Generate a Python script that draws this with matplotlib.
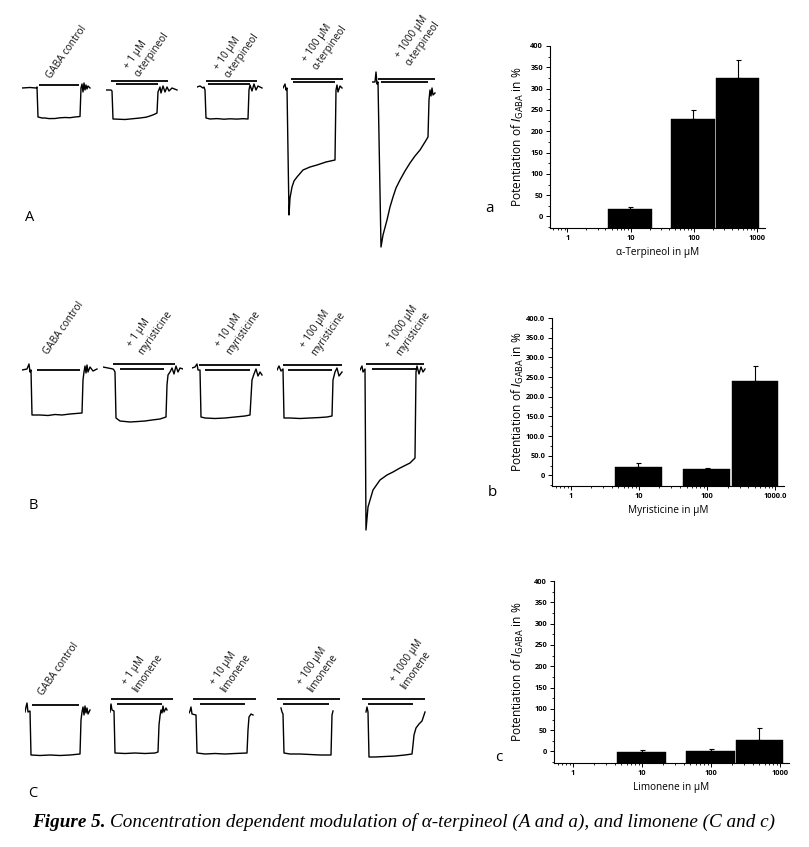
import matplotlib
matplotlib.use("Agg")
import matplotlib.pyplot as plt
from matplotlib.ticker import FixedLocator, LogLocator, NullFormatter, MultipleLocator

W, H = 809, 847
SANS = ['Open Sans', 'DejaVu Sans']
SERIF = ['Liberation Serif', 'DejaVu Serif']
plt.rcParams['font.family'] = SANS

# ---------------- DATA ----------------
# Current traces: time (s) relative to sweep start, current (nA) relative to holding baseline
# Row A: alpha-terpineol
A_t = [
    [0, 8, 14, 15, 16, 20, 23, 27, 33, 38, 43, 48, 53, 58, 59, 60, 61, 62, 63, 64, 65, 66, 68],
    [0, 5, 6, 7, 12, 19, 26, 34, 40, 44, 48, 51, 52, 54, 55, 57, 59, 61, 63, 66, 71],
    [0, 3, 6, 7, 8, 9, 13, 20, 27, 33, 40, 46, 51, 52, 53, 55, 57, 59, 61, 65],
    [0, 2, 3, 4, 6, 7, 9, 11, 14, 20, 27, 34, 43, 52, 53, 54, 55, 57, 59],
    [0, 3, 4, 5, 6, 9, 11, 15, 18, 21, 24, 28, 33, 38, 43, 48, 53, 56, 57, 58, 59, 60, 61, 63],
]
A_i = [
    [0, 5, 0, 10, -290, -300, -300, -306, -305, -298, -295, -297, -290, -285, 0, 40, -40, 50, -20, 30, -10, 20, 0],
    [-20, -20, -30, -310, -312, -315, -308, -300, -292, -280, -265, -250, -40, 10, -50, 20, -40, 10, -30, 0, -20],
    [10, 20, 0, 10, -20, -300, -310, -306, -312, -308, -311, -307, -310, -20, 30, -30, 40, -20, 20, 0],
    [0, 40, -20, 0, -1270, -1100, -990, -930, -890, -820, -790, -770, -740, -720, -20, 30, -40, 20, 0],
    [60, 60, 160, 40, 60, -1590, -1470, -1320, -1190, -1090, -1000, -920, -830, -750, -680, -620, -540,
     -490, -120, -20, -80, 0, -70, -50],
]
# Row B: myristicine
B_t = [
    [0, 5, 7, 8, 9, 10, 18, 26, 33, 40, 48, 54, 60, 61, 62, 63, 64, 65, 66, 68, 71, 75],
    [0, 5, 10, 11, 12, 13, 17, 27, 35, 42, 49, 57, 63, 64, 65, 67, 69, 71, 73, 75, 77, 80],
    [0, 3, 5, 6, 8, 9, 13, 23, 33, 43, 53, 58, 60, 62, 64, 66, 68, 70],
    [0, 2, 4, 6, 7, 13, 23, 33, 43, 50, 55, 56, 58, 60, 62, 65],
    [0, 2, 3, 5, 6, 8, 13, 20, 27, 33, 40, 50, 55, 56, 57, 59, 61, 63, 65],
]
B_i = [
    [-10, 0, 50, -30, -10, -460, -460, -465, -455, -460, -450, -445, -440, -110, -30, 30, -40, 40, -30, 20, -20, 0],
    [20, 10, 0, -10, -30, -490, -520, -530, -525, -520, -510, -500, -480, -160, -60, -30, 10, -50, 30, -30, 10, 0],
    [10, 20, 50, -10, -10, -480, -490, -495, -490, -480, -470, -460, -110, -50, 0, -70, -30, -60],
    [-10, 30, -20, 0, -490, -490, -495, -490, -485, -480, -470, -110, -30, 10, -70, -30],
    [-10, 30, -30, 0, -1610, -1380, -1210, -1110, -1060, -1030, -990, -940, -890, -30, 30, -50, 20, -30, 0],
]
# Row C: limonene
C_t = [
    [0, 1, 2, 3, 5, 6, 15, 25, 35, 45, 55, 56, 57, 58, 59, 60, 61, 62, 63, 65],
    [0, 1, 2, 4, 5, 15, 25, 35, 45, 48, 49, 50, 51, 52, 53, 54, 56, 57],
    [0, 1, 2, 3, 7, 8, 16, 26, 36, 46, 58, 59, 60, 62, 64],
    [4, 5, 6, 7, 13, 23, 33, 43, 54, 55, 56],
    [4, 5, 6, 7, 13, 23, 33, 43, 50, 51, 52, 54, 57, 60, 63],
]
C_i = [
    [-20, 30, 70, -20, -10, -450, -455, -450, -455, -450, -440, -100, -20, 30, -50, 40, -30, 20, -40, 0],
    [-20, 60, 0, -10, -430, -435, -430, -435, -430, -420, -150, -60, 0, -30, 40, -20, 20, 0],
    [-30, -10, 30, -40, -50, -430, -440, -435, -440, -435, -430, -200, -70, -40, -50],
    [20, -20, -40, -430, -440, -440, -445, -450, -450, -50, -10],
    [-20, 30, -20, -470, -470, -465, -460, -450, -440, -350, -250, -180, -140, -110, -20],
]
# Application bars: (t_start, t_end, level nA); first = GABA(+drug) long bar, second = GABA bar
A_bars = [[(17, 57, 30)], [(5, 62, 70), (10, 52, 40)], [(9, 60, 70), (11, 53, 40)],
          [(8, 60, 90), (10, 52, 60)], [(6, 63, 90), (9, 56, 60)]]
B_bars = [[(15, 58, -10)], [(10, 72, 50), (17, 61, 0)], [(7, 68, 40), (13, 58, -10)],
          [(6, 65, 40), (11, 55, -10)], [(6, 64, 50), (12, 57, 0)]]
C_bars = [[(7, 54, 50)], [(1, 63, 110), (7, 52, 60)], [(4, 67, 110), (11, 56, 60)],
          [(0, 63, 110), (6, 52, 60)], [(0, 63, 110), (6, 51, 60)]]

A_labels = ["GABA control", "+ 1 µM\nα-terpineol", "+ 10 µM\nα-terpineol",
            "+ 100 µM\nα-terpineol", "+ 1000 µM\nα-terpineol"]
B_labels = ["GABA control", "+ 1 µM\nmyristicine", "+ 10 µM\nmyristicine",
            "+ 100 µM\nmyristicine", "+ 1000 µM\nmyristicine"]
C_labels = ["GABA control", "+ 1 µM\nlimonene", "+ 10 µM\nlimonene",
            "+ 100 µM\nlimonene", "+ 1000 µM\nlimonene"]

# Bar charts: concentration (µM), potentiation (%), SEM (%)
conc = [1, 10, 100, 1000]
a_mean = [0, 18, 228, 326]
a_err = [0, 5, 23, 41]
b_mean = [0, 21, 17, 239]
b_err = [0, 9.5, 1.6, 38]
c_mean = [0, -2, 0, 28]
c_err = [0, 6, 5, 27]
xtick_labels_a = ["1", "10", "100", "1000"]
xtick_labels_b = ["1", "10", "100", "1000.0"]
xtick_labels_c = ["1", "10", "100", "1000"]
yticks = [0, 50, 100, 150, 200, 250, 300, 350, 400]
ytick_labels_a = ["0", "50", "100", "150", "200", "250", "300", "350", "400"]
ytick_labels_b = ["0", "50.0", "100.0", "150.0", "200.0", "250.0", "300.0", "350.0", "400.0"]
ytick_labels_c = ["0", "50", "100", "150", "200", "250", "300", "350", "400"]
xlabels = ["α-Terpineol in µM", "Myristicine in µM", "Limonene in µM"]

# ---------------- LAYOUT / STYLE ----------------
fig = plt.figure(figsize=(W / 100, H / 100), dpi=100)


def rect(x0, y0, x1, y1):
    return [x0 / W, 1 - y1 / H, (x1 - x0) / W, (y1 - y0) / H]


PX_NA = 10.0  # nA per pixel vertical scale
TRACE_W = 80  # seconds shown per sweep axes (1 px = 1 s)

rows = [
    ([22, 106, 197, 283, 372], 88, 50, 175, A_t, A_i, A_bars, A_labels,
     [(53, 81), (142, 79), (232, 80), (320, 72), (413, 68)]),
    ([22, 103, 192, 277, 360], 369, 50, 175, B_t, B_i, B_bars, B_labels,
     [(50, 357), (145, 357), (233, 357), (318, 358), (403, 358)]),
    ([25, 110, 189, 277, 362], 710, 50, 70, C_t, C_i, C_bars, C_labels,
     [(45, 698), (140, 695), (228, 695), (315, 695), (408, 692)]),
]

for starts, base, up, down, T, I, BARS, LABS, ANCH in rows:
    for k in range(5):
        x0 = starts[k]
        ax = fig.add_axes(rect(x0, base - up, x0 + TRACE_W, base + down))
        ax.set_xlim(0, TRACE_W)
        ax.set_ylim(-down * PX_NA, up * PX_NA)
        ax.axis('off')
        ax.plot(T[k], I[k], color='black', lw=1.0, solid_joinstyle='round')
        for (t0, t1, lev) in BARS[k]:
            ax.hlines(lev, t0, t1, color='black', lw=1.3)
        lx, ly = ANCH[k]
        fig.text(lx / W, 1 - ly / H, LABS[k], rotation=55, rotation_mode='anchor',
                 ha='left', va='bottom', multialignment='left', fontsize=7.2,
                 linespacing=1.3, family=SANS, color='#111111')

for txt, (x, y) in zip(["A", "B", "C"], [(30, 217), (33, 505), (33, 793)]):
    fig.text(x / W, 1 - y / H, txt, fontsize=10.5, ha='center', va='center', family=SANS)

# ---- bar charts ----
bar_edges = [(0.44, 2.2), (0.44, 2.2), (0.44, 2.2), (0.23, 1.1)]  # relative to concentration
YMIN, YMAX = -27, 400
XMIN, XMAX = 0.53, 1350
panels = [
    ((550, 46, 765, 228), a_mean, a_err, xtick_labels_a, ytick_labels_a, xlabels[0], "a", (490, 208)),
    ((552, 318, 784, 486), b_mean, b_err, xtick_labels_b, ytick_labels_b, xlabels[1], "b", (492, 492)),
    ((554, 581, 789, 763), c_mean, c_err, xtick_labels_c, ytick_labels_c, xlabels[2], "c", (499, 757)),
]
for (x0, y0, x1, y1), mean, err, xtl, ytl, xl, letter, (lx, ly) in panels:
    ax = fig.add_axes(rect(x0, y0, x1, y1))
    ax.set_xscale('log')
    ax.set_xlim(XMIN, XMAX)
    ax.set_ylim(YMIN, YMAX)
    for c, m, (lo, hi) in zip(conc, mean, bar_edges):
        if c == 1:
            continue
        ax.bar(c * lo, m - YMIN, width=c * (hi - lo), bottom=YMIN, align='edge',
               color='black', edgecolor='black', lw=0.3)
    centers = [c * ((lo * hi) ** 0.5) for c, (lo, hi) in zip(conc, bar_edges)]
    ax.errorbar(centers[1:], mean[1:], yerr=[[0] * 3, err[1:]], fmt='none',
                ecolor='black', elinewidth=0.8, capsize=1.8, capthick=0.8)
    for s in ['top', 'right']:
        ax.spines[s].set_visible(False)
    for s in ['left', 'bottom']:
        ax.spines[s].set_linewidth(0.8)
    ax.xaxis.set_major_locator(FixedLocator(conc))
    ax.set_xticklabels(xtl)
    ax.xaxis.set_minor_locator(LogLocator(base=10, subs=range(2, 10), numticks=20))
    ax.xaxis.set_minor_formatter(NullFormatter())
    ax.set_yticks(yticks)
    ax.set_yticklabels(ytl)
    ax.yaxis.set_minor_locator(MultipleLocator(25))
    ax.tick_params(which='major', length=3, width=0.7, labelsize=5.3, pad=2)
    ax.tick_params(which='minor', length=1.6, width=0.6)
    for lab in ax.get_xticklabels() + ax.get_yticklabels():
        lab.set_fontweight('bold')
    ax.set_ylabel(r'Potentiation of $\mathit{I}_{\mathrm{GABA}}$ in %', fontsize=8.6, family=SANS)
    ax.yaxis.set_label_coords(-(x0 - 526) / (x1 - x0), 0.5)
    ax.set_xlabel(xl, fontsize=7.2, family=SANS, labelpad=3.5)
    fig.text(lx / W, 1 - ly / H, letter, fontsize=11, ha='center', va='center', family=SANS)

# ---- caption ----
renderer = fig.canvas.get_renderer()
t1 = fig.text(32 / W, 1 - 822 / H, "Figure 5.", fontsize=13.8, fontweight='bold', fontstyle='italic',
              family=SERIF, va='center', ha='left')
bb = t1.get_window_extent(renderer=renderer)
fig.text((bb.x1 + 5) / W, 1 - 822 / H,
         "Concentration dependent modulation of α-terpineol (A and a), and limonene (C and c)",
         fontsize=13.8, fontstyle='italic', family=SERIF, va='center', ha='left')

fig.savefig("out.png", dpi=100, facecolor='white')
